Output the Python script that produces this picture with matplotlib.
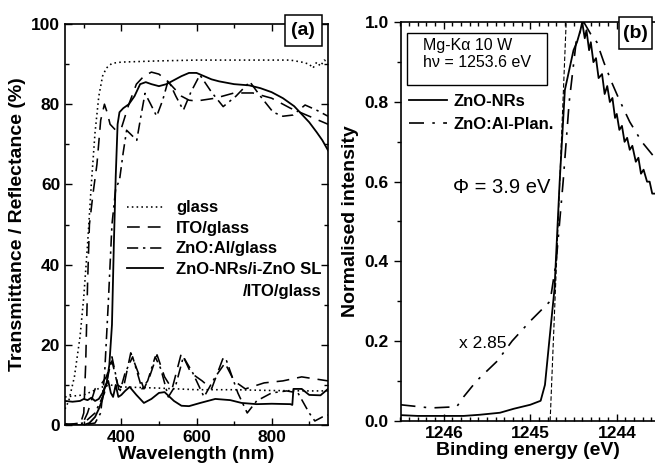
import numpy as np
import matplotlib
matplotlib.use('Agg')
import matplotlib.pyplot as plt
from matplotlib.ticker import MultipleLocator

plt.rcParams['font.family'] = ['Liberation Sans', 'DejaVu Sans']

# ---- panel (a): transmittance / reflectance ----
glass_T_nm = [250, 260, 275, 290, 300, 310, 320, 330, 340, 350, 360, 375, 400, 500, 600, 700, 800,
              850, 880, 900, 910, 920, 930, 940, 950]
glass_T = [4, 6, 12, 22, 32, 45, 60, 73, 82, 87, 89, 90.2, 90.5, 90.8, 91, 91, 91,
           91, 90.5, 90, 89, 90.5, 89.5, 91, 90.5]
glass_R_nm = [250, 300, 350, 370, 400, 500, 600, 700, 800, 900, 950]
glass_R = [7, 7.5, 9.5, 10, 9.5, 9.2, 8.8, 8.8, 8.6, 8.5, 8.5]

ito_T_nm = [250, 290, 300, 305, 310, 315, 325, 335, 345, 355, 362, 370, 385, 400, 420, 440, 460, 480,
            500, 520, 540, 560, 580, 600, 650, 700, 750, 800, 850, 900, 950]
ito_T = [0, 0, 3, 15, 35, 50, 58, 65, 76, 80, 78, 75, 73.5, 74, 80, 85, 87, 88,
         87.5, 86, 84, 82, 81, 80.8, 81.5, 82.8, 82.8, 81.5, 79, 77, 75]
ito_R_nm = [250, 290, 300, 310, 320, 330, 345, 360, 375, 390, 405, 425, 445, 460, 475, 495, 515, 535,
            560, 585, 615, 640, 670, 700, 730, 780, 830, 880, 950]
ito_R = [0, 0.5, 1, 3, 6, 9, 10, 12, 16, 10, 9, 18, 13, 9, 12, 17.5, 12, 9,
         18, 13, 11, 9, 16.5, 11, 9, 10.5, 11, 12, 11]

azo_T_nm = [250, 300, 330, 345, 355, 365, 375, 385, 395, 405, 414, 425, 441, 452, 463, 478, 494, 510,
            525, 545, 565, 585, 609, 640, 671, 705, 742, 770, 804, 830, 857, 889, 920, 950]
azo_T = [0, 0, 0.5, 3, 12, 30, 50, 59, 61, 68, 73.5, 72.5, 71, 77, 82.7, 80, 77, 81,
         86, 82, 78.5, 83, 87.3, 83, 79.4, 82, 85.6, 82, 78, 77, 77.3, 79.8, 78.5, 77]
azo_R_nm = [250, 300, 330, 355, 375, 395, 410, 430, 455, 470, 490, 505, 525, 545, 565, 590, 620, 650,
            680, 710, 735, 760, 800, 840, 870, 900, 915, 935, 950]
azo_R = [0, 0.5, 3, 8, 17, 8, 13, 17, 9, 11, 17, 14, 7, 10, 17, 13, 7, 12,
         16, 8, 3, 6, 8, 8.5, 8, 3, 1, 2, 2.5]

nr_T_nm = [250, 280, 300, 315, 330, 340, 350, 355, 360, 368, 375, 380, 385, 390, 395, 405, 420, 435,
           450, 465, 480, 500, 520, 540, 560, 580, 600, 620, 640, 660, 700, 740, 770, 800, 830, 860,
           880, 900, 920, 935, 950]
nr_T = [0.3, 0, 0, 0.5, 2, 4, 6.5, 9, 10, 15, 25, 45, 62, 75, 78, 79, 80, 82,
        85, 85.5, 85, 84.5, 85, 86, 87, 87.8, 87.8, 87, 86.2, 85.7, 85, 84.7, 84, 83, 81.5, 79.5,
        77.5, 75.5, 73, 71, 68.5]
nr_R_nm = [250, 270, 290, 300, 310, 320, 330, 340, 350, 358, 365, 372, 378, 385, 392, 400, 410, 422,
           440, 460, 480, 500, 515, 540, 560, 580, 610, 650, 690, 720, 760, 800, 850, 855, 858, 880,
           900, 930, 950]
nr_R = [6, 5.8, 6, 6.5, 6.2, 6.8, 6, 6.5, 8, 10, 11, 8, 7, 10, 7, 7.5, 8.5, 9.5,
        7.5, 5.5, 6.5, 8, 8.2, 6, 4.8, 4.7, 5.5, 6.5, 6.2, 5.5, 5.2, 5.3, 5.2, 5, 9, 9,
        7.5, 7.4, 9]

# ---- panel (b): secondary electron cut-off ----
nrs_E = [1246.5, 1246.3, 1246.0, 1245.77, 1245.58, 1245.35, 1245.19, 1245.0, 1244.88, 1244.83,
         1244.78, 1244.72, 1244.66, 1244.6, 1244.55, 1244.5, 1244.46, 1244.42, 1244.4, 1244.37,
         1244.35, 1244.32, 1244.3, 1244.27, 1244.24, 1244.21, 1244.17, 1244.14, 1244.11, 1244.08,
         1244.05, 1244.02, 1244.0, 1243.97, 1243.94, 1243.91, 1243.88, 1243.85, 1243.82, 1243.78,
         1243.75, 1243.72, 1243.69, 1243.65, 1243.62, 1243.59, 1243.56]
nrs_I = [0.014, 0.012, 0.012, 0.012, 0.015, 0.02, 0.03, 0.04, 0.05, 0.09,
         0.2, 0.33, 0.6, 0.83, 0.88, 0.93, 0.95, 0.98, 1.0, 0.96,
         0.98, 0.93, 0.95, 0.9, 0.91, 0.86, 0.87, 0.82, 0.84, 0.8,
         0.81, 0.76, 0.77, 0.73, 0.74, 0.7, 0.71, 0.68, 0.69, 0.65,
         0.66, 0.62, 0.63, 0.6, 0.6, 0.57, 0.57]
azo_E = [1246.5, 1246.15, 1245.85, 1245.77, 1245.62, 1245.38, 1245.21, 1245.0, 1244.77, 1244.7,
         1244.62, 1244.55, 1244.47, 1244.38, 1244.3, 1244.23, 1244.15, 1244.06, 1243.98, 1243.85,
         1243.71, 1243.56]
azo_I = [0.04, 0.032, 0.035, 0.06, 0.1, 0.15, 0.2, 0.25, 0.3, 0.4,
         0.6, 0.8, 0.95, 1.0, 0.97, 0.95, 0.9, 0.85, 0.81, 0.75,
         0.7, 0.66]
onset_E = [1244.77, 1244.585]
onset_I = [0.0, 1.0]

label_font = dict(fontsize=14, fontweight='bold')

fig = plt.figure(figsize=(6.55, 4.7), dpi=100)

# ---------------- (a) ----------------
ax = fig.add_axes([65 / 655, 45 / 470, 263 / 655, 401 / 470])
lw = 1.15
l1, = ax.plot(glass_T_nm, glass_T, color='black', lw=lw, ls=(0, (1, 2)), label='glass')
ax.plot(glass_R_nm, glass_R, color='black', lw=lw, ls=(0, (1, 2)))
l2, = ax.plot(ito_T_nm, ito_T, color='black', lw=lw, ls=(0, (8, 5)), label='ITO/glass')
ax.plot(ito_R_nm, ito_R, color='black', lw=lw, ls=(0, (8, 5)))
l3, = ax.plot(azo_T_nm, azo_T, color='black', lw=lw, ls=(0, (7, 3, 1.5, 3)), label='ZnO:Al/glass')
ax.plot(azo_R_nm, azo_R, color='black', lw=lw, ls=(0, (7, 3, 1.5, 3)))
l4, = ax.plot(nr_T_nm, nr_T, color='black', lw=1.3, label='ZnO-NRs/i-ZnO SL')
ax.plot(nr_R_nm, nr_R, color='black', lw=1.3)

ax.set_xlim(250, 950)
ax.set_ylim(0, 100)
ax.xaxis.set_major_locator(MultipleLocator(200))
ax.xaxis.set_minor_locator(MultipleLocator(100))
ax.yaxis.set_major_locator(MultipleLocator(20))
ax.yaxis.set_minor_locator(MultipleLocator(10))
ax.tick_params(which='both', direction='in', top=True, right=True, width=1)
ax.tick_params(which='major', length=5)
ax.tick_params(which='minor', length=3)
ax.set_xticks([400, 600, 800])
for t in ax.get_xticklabels() + ax.get_yticklabels():
    t.set_fontsize(12.5)
    t.set_fontweight('bold')
ax.set_xlabel('Wavelength (nm)', labelpad=1, **label_font)
ax.set_ylabel('Transmittance / Reflectance (%)', labelpad=4, **label_font)
for s in ax.spines.values():
    s.set_linewidth(1.2)

leg = ax.legend(handles=[l1, l2, l3, l4], loc='upper left', bbox_to_anchor=(0.235, 0.56),
                frameon=False, borderpad=0, borderaxespad=0, handlelength=2.15,
                handletextpad=0.8, labelspacing=0.33, prop=dict(size=12, weight='bold'))
ax.text(0.977, 0.332, '/ITO/glass', transform=ax.transAxes, ha='right', va='center',
        fontsize=12, fontweight='bold')

ax.add_patch(plt.Rectangle((0.8365, 0.945), 0.1395, 0.077, transform=ax.transAxes,
                           facecolor='white', edgecolor='black', lw=1.1, clip_on=False, zorder=5))
ax.text(0.906, 0.9835, '(a)', transform=ax.transAxes, ha='center', va='center',
        fontsize=14, fontweight='bold', zorder=6)

# ---------------- (b) ----------------
bx = fig.add_axes([400.5 / 655, 49.3 / 470, 254.5 / 655, 398.4 / 470])
bn, = bx.plot(nrs_E, nrs_I, color='black', lw=1.3, label='ZnO-NRs')
ba, = bx.plot(azo_E, azo_I, color='black', lw=1.2, ls=(0, (9, 5, 1.5, 5)), label='ZnO:Al-Plan.')
bx.plot(onset_E, onset_I, color='black', lw=0.8, ls=(0, (4, 2)))

bx.set_xlim(1246.5, 1243.558)
bx.set_ylim(0, 1.0)
bx.xaxis.set_major_locator(MultipleLocator(1))
bx.xaxis.set_minor_locator(MultipleLocator(0.1))
bx.yaxis.set_major_locator(MultipleLocator(0.2))
bx.yaxis.set_minor_locator(MultipleLocator(0.1))
bx.xaxis.set_major_formatter(matplotlib.ticker.FormatStrFormatter('%d'))
bx.yaxis.set_major_formatter(matplotlib.ticker.FormatStrFormatter('%.1f'))
bx.tick_params(axis='x', which='both', direction='in', top=True, width=1)
bx.tick_params(axis='y', which='both', direction='out', width=1)
bx.tick_params(which='major', length=5)
bx.tick_params(which='minor', length=3)
bx.spines['right'].set_visible(False)
for s in bx.spines.values():
    s.set_linewidth(1.2)
for t in bx.get_xticklabels() + bx.get_yticklabels():
    t.set_fontsize(12.5)
    t.set_fontweight('bold')
bx.set_xlabel('Binding energy (eV)', labelpad=1, **label_font)
bx.set_ylabel('Normalised intensity', labelpad=4, **label_font)

bx.legend(handles=[bn, ba], loc='upper left', bbox_to_anchor=(0.033, 0.82),
          frameon=False, borderpad=0, borderaxespad=0, handlelength=2.3,
          handletextpad=0.35, labelspacing=0.48, prop=dict(size=12, weight='bold'))

bx.add_patch(plt.Rectangle((0.024, 0.843), 0.552, 0.131, transform=bx.transAxes,
                           facecolor='white', edgecolor='black', lw=1.0, zorder=5))
bx.text(0.088, 0.943, 'Mg-K\u03b1 10 W', transform=bx.transAxes, ha='left', va='center',
        fontsize=11.5, zorder=6)
bx.text(0.088, 0.898, 'h\u03bd = 1253.6 eV', transform=bx.transAxes, ha='left', va='center',
        fontsize=11.5, zorder=6)
bx.text(0.206, 0.586, '\u03a6 = 3.9 eV', transform=bx.transAxes, ha='left', va='center',
        fontsize=14.5)
bx.text(0.23, 0.195, 'x 2.85', transform=bx.transAxes, ha='left', va='center', fontsize=12.5)

bx.add_patch(plt.Rectangle((0.8585, 0.9325), 0.1295, 0.0805, transform=bx.transAxes,
                           facecolor='white', edgecolor='black', lw=1.1, clip_on=False, zorder=5))
bx.text(0.923, 0.973, '(b)', transform=bx.transAxes, ha='center', va='center',
        fontsize=14, fontweight='bold', zorder=6)

fig.savefig('out.png', dpi=100)
